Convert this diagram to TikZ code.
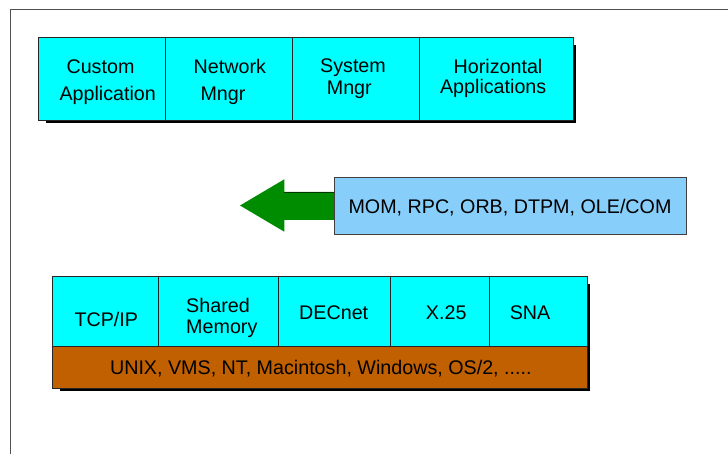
\documentclass[tikz,border=0pt]{standalone}
\usepackage{fontspec}
\setmainfont{Liberation Sans}
\definecolor{cellcyan}{RGB}{0,255,255}
\definecolor{midblue}{RGB}{135,206,250}
\definecolor{arrgreen}{RGB}{0,140,0}
\definecolor{osbrown}{RGB}{192,96,0}
\definecolor{framegray}{RGB}{80,80,80}
\begin{document}
\begin{tikzpicture}[x=1pt,y=-1pt,
  cell/.style={draw=black!85, line width=0.8pt, fill=cellcyan, anchor=north west, inner sep=0pt, outer sep=0pt},
  osbar/.style={cell, fill=osbrown},
  midbox/.style={cell, fill=midblue, draw=black!75},
  dropshadow/.style={fill=black},
  lbl/.style={font=\fontsize{19.7}{23}\selectfont, inner sep=0pt, anchor=base}]
\useasboundingbox (0,0) rectangle (728,454);
\fill[white] (0,0) rectangle (728,454);
\draw[framegray, line width=0.9pt] (728,9.3) -- (10.5,9.3) -- (10.5,454);

% ---------- top row ----------
\fill[dropshadow] (46,45) rectangle (575.6,123);
\node[cell, minimum width=126.6pt, minimum height=82.7pt] (custom) at (38.7,37.3) {};
\node[cell, minimum width=127pt, minimum height=82.7pt] (netmgr) at (165.3,37.3) {};
\node[cell, minimum width=127pt, minimum height=82.7pt] (sysmgr) at (292.3,37.3) {};
\node[cell, minimum width=154pt, minimum height=82.7pt] (horiz) at (419.3,37.3) {};
\node[lbl] (t1a) at (100.5,73.3) {Custom};
\node[lbl] (t1b) at (107.7,100.7) {Application};
\node[lbl] (t2a) at (229.8,73.3) {Network};
\node[lbl] (t2b) at (223,100.7) {Mngr};
\node[lbl] (t3a) at (353,72.7) {System};
\node[lbl] (t3b) at (349.3,94.2) {Mngr};
\node[lbl] (t4a) at (498,73.3) {Horizontal};
\node[lbl] (t4b) at (493.2,93.8) {Applications};

% ---------- middleware ----------
\coordinate (arrtip) at (240,205.5);
\fill[arrgreen] (arrtip) -- (284.3,179.3) -- (284.3,192) -- (340,192) -- (340,220) -- (284.3,220) -- (284.3,231.7) -- cycle;
\draw[black!60!arrgreen, line width=0.6pt] (284.3,192) -- (334,192);
\node[midbox, minimum width=351.7pt, minimum height=56.7pt] (mw) at (334.3,177.3) {};
\node[lbl] (mwtext) at (510,213.3) {MOM, RPC, ORB, DTPM, OLE/COM};

% ---------- bottom row ----------
\fill[dropshadow] (60,284) rectangle (589.5,390.6);
\node[cell, minimum width=106pt, minimum height=70pt] (tcpip) at (52.7,276.7) {};
\node[cell, minimum width=119.3pt, minimum height=70pt] (shmem) at (158.7,276.7) {};
\node[cell, minimum width=112.7pt, minimum height=70pt] (decnet) at (278,276.7) {};
\node[cell, minimum width=98.6pt, minimum height=70pt] (xtf) at (390.7,276.7) {};
\node[cell, minimum width=98pt, minimum height=70pt] (sna) at (489.3,276.7) {};
\node[osbar, minimum width=534.6pt, minimum height=41.6pt] (os) at (52.7,346.7) {};
\node[lbl] (b1) at (106.3,326) {TCP/IP};
\node[lbl] (b2a) at (218,312.3) {Shared};
\node[lbl] (b2b) at (221.8,333) {Memory};
\node[lbl] (b3) at (333.7,319.3) {DECnet};
\node[lbl] (b4) at (446.2,319.3) {X.25};
\node[lbl] (b5) at (530,319.3) {SNA};
\node[lbl] (ostext) at (320.8,374) {UNIX, VMS, NT, Macintosh, Windows, OS/2, .....};
\end{tikzpicture}
\end{document}
